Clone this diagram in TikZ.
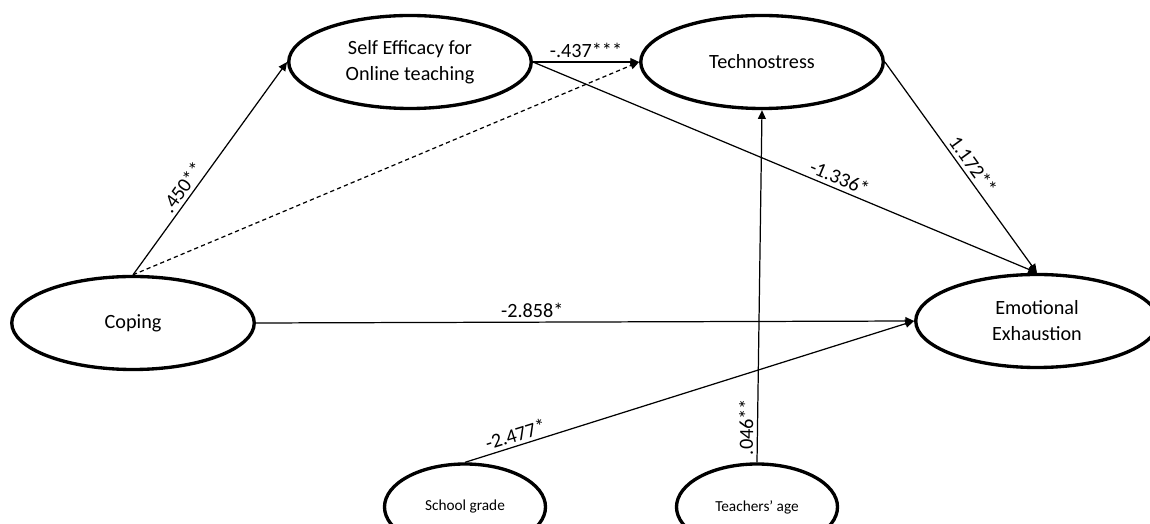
\documentclass[tikz,border=0pt]{standalone}
\usepackage{fontspec}
\setmainfont{Carlito}
\usetikzlibrary{arrows.meta,shapes.geometric}

\begin{document}
\begin{tikzpicture}[
  font=\fontsize{11.5}{14.8}\selectfont,
  latent/.style={draw, ellipse, line width=1.9pt, minimum width=48.5mm, minimum height=18.6mm, inner sep=0pt, align=center},
  covar/.style={draw, ellipse, line width=1.9pt, minimum width=32.2mm, minimum height=17.2mm, inner sep=0pt, font=\fontsize{8.7}{10}\selectfont},
  link/.style={->, line width=0.7pt},
  coef/.style={above, sloped, inner sep=2pt},
  >={Triangle[length=5pt,width=4.5pt]}
]
\useasboundingbox (0,0) rectangle (23,10.48);
\node[latent] (self) at (8.2,9.24) {Self Efficacy for\\Online teaching};
\node[latent] (tech) at (15.24,9.24) {Technostress};
\node[latent] (cope) at (2.66,4.02) {Coping};
\node[latent] (emo) at (20.74,4.06) {Emotional\\Exhaustion};
\node[covar] (grade) at (9.3,0.34) {School grade};
\node[covar] (age) at (15.14,0.34) {Teachers’ age};
% paths
\draw[link] (cope.north) -- (self.west) node[coef, pos=0.38]{.450**};
\draw[link, dashed, dash pattern=on 2.4pt off 1.8pt] (cope.north) -- (tech.west);
\draw[link] (self.east) -- (tech.west) node[coef, midway]{-.437***};
\draw[link] (self.east) -- (emo.north) node[coef, pos=0.6]{-1.336*};
\draw[link] (tech.east) -- (emo.north) node[coef, pos=0.52]{1.172**};
\draw[link] (cope.east) -- (emo.west) node[coef, pos=0.42]{-2.858*};
\draw[link] (grade.north) -- (emo.west) node[coef, pos=0.12]{-2.477*};
\draw[link] (age.north) -- (tech.south) node[coef, pos=0.1]{.046**};
\end{tikzpicture}
\end{document}
